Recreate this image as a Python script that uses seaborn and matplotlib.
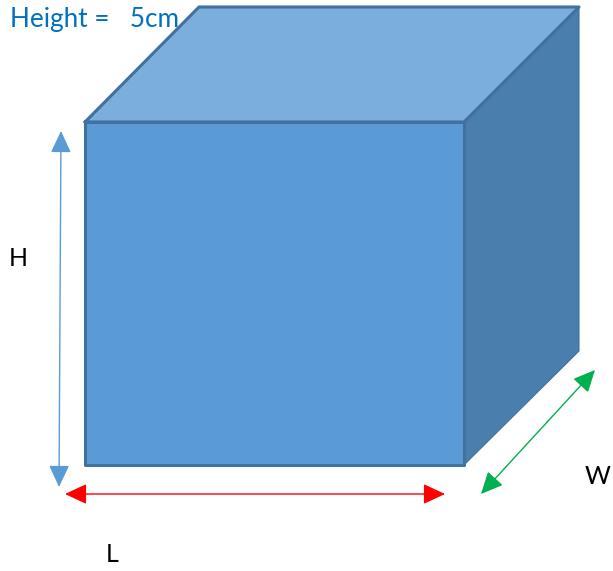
import numpy as np
import pandas as pd
import seaborn as sns
import matplotlib.pyplot as plt

# cuboid faces, in picture pixels
front_x = [85, 464, 464, 85]
front_y = [122, 122, 465, 465]
top_x = [85, 199, 579, 464]
top_y = [122, 7, 7, 122]
side_x = [464, 579, 579, 464]
side_y = [122, 7, 351, 465]

# dimension arrows: start, end
h_arrow = [(59, 487), (61, 131)]
l_arrow = [(65, 494), (445, 494)]
w_arrow = [(481, 494), (595, 370)]

# labels
title_text = "Height =   5cm"
dim_labels = ["H", "L", "W"]
dim_x = [18, 112, 598]
dim_y = [259, 555, 477]

front_col = "#5B9BD5"
top_col = "#7CAEDD"
side_col = "#4A7EAD"
edge_col = "#41719C"

sns.set_theme(style="white")
plt.rcParams['font.family'] = ['Lato', 'DejaVu Sans']

fig = plt.figure(figsize=(6.13, 5.71), dpi=100)
ax = fig.add_axes([0, 0, 1, 1])

# the side face has hardly any visible outline
for fx, fy, col, lw in [(side_x, side_y, side_col, 0.8), (top_x, top_y, top_col, 2.2), (front_x, front_y, front_col, 2.2)]:
    ax.fill(fx, fy, color=col, lw=0, zorder=1)
    outline = pd.DataFrame({"x": fx + fx[:1], "y": fy + fy[:1]})
    sns.lineplot(data=outline, x="x", y="y", sort=False, estimator=None, color=edge_col,
                 linewidth=lw, ax=ax, zorder=2)

def double_arrow(pts, col, lw):
    ax.annotate("", xy=pts[1], xytext=pts[0], zorder=3,
                arrowprops=dict(arrowstyle="<|-|>,head_length=0.9,head_width=0.42", color=col,
                                lw=lw, shrinkA=0, shrinkB=0, mutation_scale=15))

double_arrow(h_arrow, front_col, 1.0)
double_arrow(l_arrow, "#FF0000", 1.0)
double_arrow(w_arrow, "#00B050", 1.0)

ax.text(10, 19, title_text, color="#0070C0", fontsize=18.8, va="center", ha="left")
for lab, lx, ly in zip(dim_labels, dim_x, dim_y):
    ax.text(lx, ly, lab, color="black", fontsize=18, va="center", ha="center")

ax.set_xlim(0, 613)
ax.set_ylim(571, 0)
ax.set_xlabel("")
ax.set_ylabel("")
ax.axis("off")

fig.savefig("out.png", dpi=100)
